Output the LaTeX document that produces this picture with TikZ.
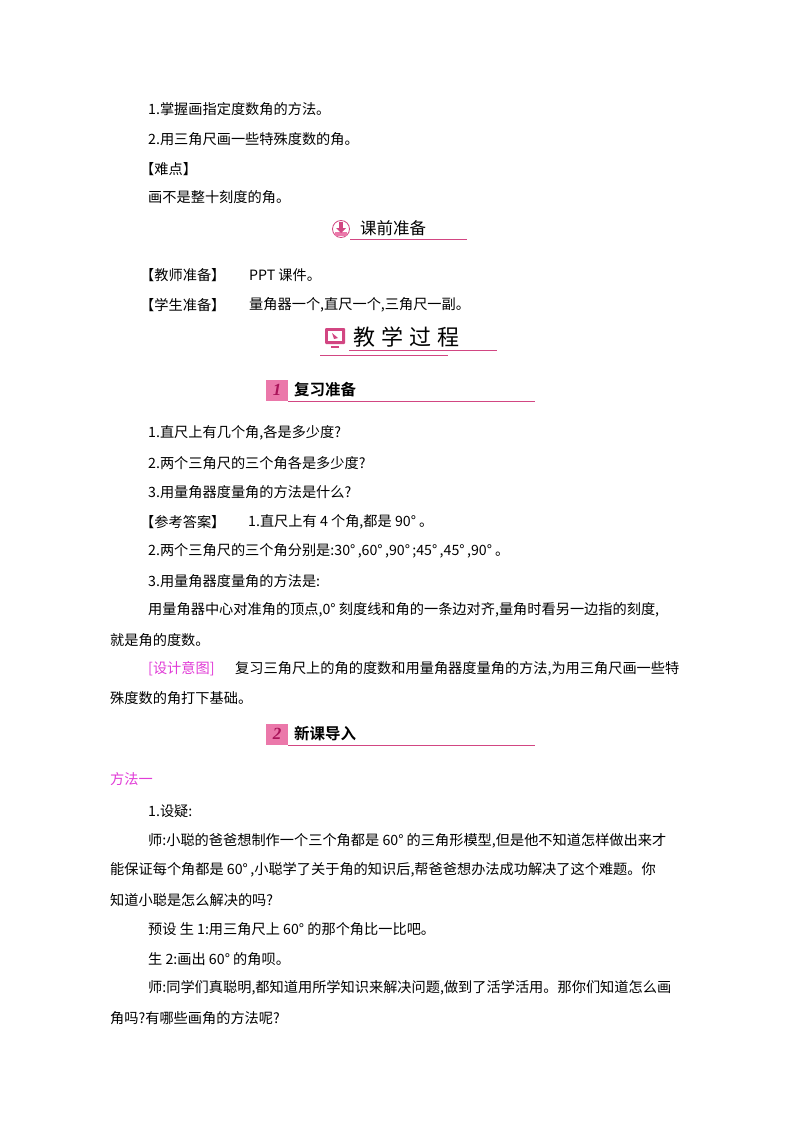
\documentclass[tikz,border=0pt]{standalone}
\usepackage{fontspec}
\setmainfont{Liberation Serif}
\newfontfamily\cjk{Noto Sans CJK SC}
\newfontfamily\cjkb{Noto Sans CJK SC Bold}
\definecolor{mag}{RGB}{225,60,215}
\definecolor{rose}{RGB}{210,70,130}
\definecolor{pinkfill}{RGB}{235,120,170}
\definecolor{digit}{RGB}{170,20,90}
\tikzset{
  t/.style={anchor=west,inner sep=0pt,font=\cjk\fontsize{14.2}{16}\selectfont},
  hd/.style={anchor=west,inner sep=0pt,font=\cjkb\fontsize{15.5}{18}\selectfont},
  ul/.style={rose,line width=0.8pt},
  num/.style={inner sep=0pt,font=\bfseries\itshape\fontsize{17}{18}\selectfont,text=digit}
}
\begin{document}
\begin{tikzpicture}[x=1pt,y=-1pt]
\useasboundingbox[fill=white] (0,0) rectangle (800,1132);
\node[t] (a1) at (148,109) {1.掌握画指定度数角的方法。};
\node[t] (a2) at (148,139) {2.用三角尺画一些特殊度数的角。};
\node[t] (a3) at (140,169) {【难点】};
\node[t] (a4) at (148,197) {画不是整十刻度的角。};
% header 1
\node[circle,draw=rose,line width=0.8pt,fill=white,minimum size=17pt,inner sep=0pt] (ic1) at (341,229) {};
\fill[pinkfill] (335,232) rectangle (347,236);
\fill[rose] (339,222) rectangle (343,229);
\fill[rose] (336,228) -- (346,228) -- (341,233) -- cycle;
\node[anchor=west,inner sep=0pt,font=\cjk\fontsize{16.5}{18}\selectfont] (h1) at (360,228) {课前准备};
\draw[ul] (350,239) -- (467,239);
\node[t] (b1) at (140,275) {【教师准备】};
\node[t] (b1t) at (249,275) {PPT 课件。};
\node[t] (b2) at (140,305) {【学生准备】};
\node[t] (b2t) at (249,305) {量角器一个,直尺一个,三角尺一副。};
% header 2
\fill[rose,rounded corners=1pt] (325,328) rectangle (345,344);
\fill[white] (328,331) rectangle (342,341);
\fill[rose] (332,333) -- (338,338) -- (334,339) -- cycle;
\fill[rose] (331,346) rectangle (339,348);
\node[anchor=west,inner sep=0pt,font=\cjk\fontsize{22}{24}\selectfont] (h2) at (353,337) {教\hspace{6pt}学\hspace{6pt}过\hspace{6pt}程};
\draw[ul] (349,350) -- (497,350);
\draw[ul] (320,355) -- (448,355);
% header 3
\fill[pinkfill] (266,380) rectangle (288,401);
\node[num] (n1) at (277,390) {1};
\node[hd] (h3) at (294,390) {复习准备};
\draw[ul] (288,401) -- (535,401);
\node[t] (c1) at (148,433) {1.直尺上有几个角,各是多少度?};
\node[t] (c2) at (148,463) {2.两个三角尺的三个角各是多少度?};
\node[t] (c3) at (148,492) {3.用量角器度量角的方法是什么?};
\node[t] (c4) at (140,522) {【参考答案】};
\node[t] (c4t) at (248,522) {1.直尺上有 4 个角,都是 90°\ 。};
\node[t] (c5) at (148,551) {2.两个三角尺的三个角分别是:30°\,,60°\,,90°\,;45°\,,45°\,,90°\ 。};
\node[t] (c6) at (148,581) {3.用量角器度量角的方法是:};
\node[t] (c7) at (148,610) {用量角器中心对准角的顶点,0°\ 刻度线和角的一条边对齐,量角时看另一边指的刻度,};
\node[t] (c8) at (110,640) {就是角的度数。};
\node[t,text=mag] (d1) at (148,669) {[设计意图]};
\node[t] (d1t) at (235,669) {复习三角尺上的角的度数和用量角器度量角的方法,为用三角尺画一些特};
\node[t] (d2) at (110,698) {殊度数的角打下基础。};
% header 4
\fill[pinkfill] (266,724) rectangle (288,745);
\node[num] (n2) at (277,734) {2};
\node[hd] (h4) at (294,734) {新课导入};
\draw[ul] (288,745) -- (535,745);
\node[t,text=mag] (e0) at (110,779) {方法一};
\node[t] (e1) at (148,811) {1.设疑:};
\node[t] (e2) at (148,841) {师:小聪的爸爸想制作一个三个角都是 60°\ 的三角形模型,但是他不知道怎样做出来才};
\node[t] (e3) at (110,870) {能保证每个角都是 60°\,,小聪学了关于角的知识后,帮爸爸想办法成功解决了这个难题。你};
\node[t] (e4) at (110,900) {知道小聪是怎么解决的吗?};
\node[t] (e5) at (148,929) {预设\ 生 1:用三角尺上 60°\ 的那个角比一比吧。};
\node[t] (e6) at (148,959) {生 2:画出 60°\ 的角呗。};
\node[t] (e7) at (148,988) {师:同学们真聪明,都知道用所学知识来解决问题,做到了活学活用。那你们知道怎么画};
\node[t] (e8) at (110,1018) {角吗?有哪些画角的方法呢?};
\end{tikzpicture}
\end{document}
